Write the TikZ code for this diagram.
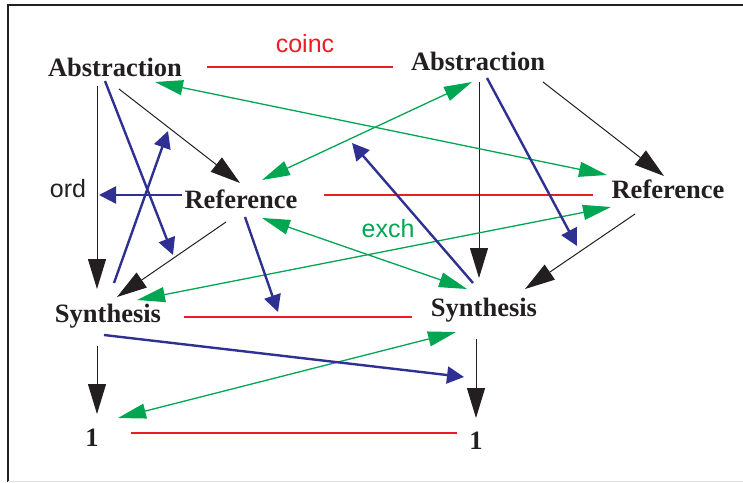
\documentclass[tikz,border=0pt]{standalone}
\usepackage{fontspec}
\setmainfont{Liberation Serif}
\setsansfont{Liberation Sans}
\usetikzlibrary{arrows.meta,calc}
\definecolor{cred}{HTML}{ED1C24}
\definecolor{cgreen}{HTML}{00A651}
\definecolor{cblue}{HTML}{2E3192}
\definecolor{cblack}{HTML}{231F20}
\begin{document}
\begin{tikzpicture}[x=1pt,y=-1pt,
 lbl/.style={font=\fontsize{26.5}{30}\selectfont\bfseries, text=cblack, inner sep=0pt},
 tag/.style={font=\sffamily\fontsize{25}{28}\selectfont, inner sep=0pt, anchor=base},
 blk/.style={draw=cblack, line width=1pt, -{Triangle[length=30pt,width=18pt]}},
 blu/.style={draw=cblue, line width=2.4pt, -{Triangle[length=17pt,width=17pt]}},
 grn/.style={draw=cgreen, line width=1.3pt, {Triangle[length=28pt,width=15pt]}-{Triangle[length=28pt,width=15pt]}},
 redline/.style={color=cred, line width=1.1pt}]
\useasboundingbox (0,0) rectangle (743,482);
% frame
\draw[cblack, line width=2.3pt] (743,5) -- (8,5) -- (8,482);
\draw[black!12, line width=1pt] (8,481) -- (743,481);
% nodes
\node[lbl] (A1) at (115,67) {Abstraction};
\node[lbl] (A2) at (478,61) {Abstraction};
\node[lbl] (R1) at (241,199) {Reference};
\node[lbl] (R2) at (668,189) {Reference};
\node[lbl] (S1) at (108,316) {Synthesis};
\node[lbl] (S2) at (484,310) {Synthesis};
\node[lbl] (O1) at (92,438) {1};
\node[lbl] (O2) at (476,441) {1};
% labels
\node[tag, text=cred] (coinc) at (305,52) {coinc};
\node[tag, text=cblack] (ord) at (68,197) {ord};
\node[tag, text=cgreen] (exch) at (388,237) {exch};
% free ends
\coordinate (b1) at (173,255);
\coordinate (b2) at (168,131);
\coordinate (b3) at (99,195);
\coordinate (b4) at (278,312);
\coordinate (b5) at (352,143);
\coordinate (b6) at (577,246);
\coordinate (b7) at (464,377);
% red lines
\draw[redline] ($(A1)+(92,0)$) -- ($(A2)+(-85,6)$);
\draw[redline] ($(R1)+(83,-4)$) -- ($(R2)+(-75,6)$);
\draw[redline] ($(S1)+(76,1)$) -- ($(S2)+(-72,7)$);
\draw[redline] ($(O1)+(39,-5)$) -- ($(O2)+(-19,-8)$);
% black arrows
\draw[blk] ($(A1)+(-18,19)$) -- ($(S1)+(-11,-27)$);
\draw[blk] ($(A1)+(4,22)$) -- ($(R1)+(-1,-16)$);
\draw[blk] ($(R1)+(-15,23)$) -- ($(S1)+(9,-19)$);
\draw[blk] ($(S1)+(-11,30)$) -- ($(O1)+(5,-24)$);
\draw[blk] ($(A2)+(1,21)$) -- ($(S2)+(-5,-32)$);
\draw[blk] ($(A2)+(65,21)$) -- ($(R2)+(-4,-13)$);
\draw[blk] ($(R2)+(-33,25)$) -- ($(S2)+(41,-21)$);
\draw[blk] ($(S2)+(-8,29)$) -- ($(O2)+(0,-23)$);
% green arrows
\draw[grn] ($(A1)+(40,15)$) -- ($(R2)+(-61,-14)$);
\draw[grn] ($(R1)+(21,-19)$) -- ($(A2)+(-6,21)$);
\draw[grn] ($(R1)+(21,19)$) -- ($(S2)+(-17,-21)$);
\draw[grn] ($(S1)+(29,-16)$) -- ($(R2)+(-57,18)$);
\draw[grn] ($(O1)+(26,-20)$) -- ($(S2)+(-28,22)$);
% blue arrows
\draw[blu] ($(A1)+(-10,14)$) -- (b1);
\draw[blu] ($(S1)+(6,-33)$) -- (b2);
\draw[blu] ($(R1)+(-59,-4)$) -- (b3);
\draw[blu] ($(R1)+(4,18)$) -- (b4);
\draw[blu] ($(S2)+(-11,-27)$) -- (b5);
\draw[blu] ($(A2)+(9,17)$) -- (b6);
\draw[blu] ($(S1)+(-4,19)$) -- (b7);
\end{tikzpicture}
\end{document}
